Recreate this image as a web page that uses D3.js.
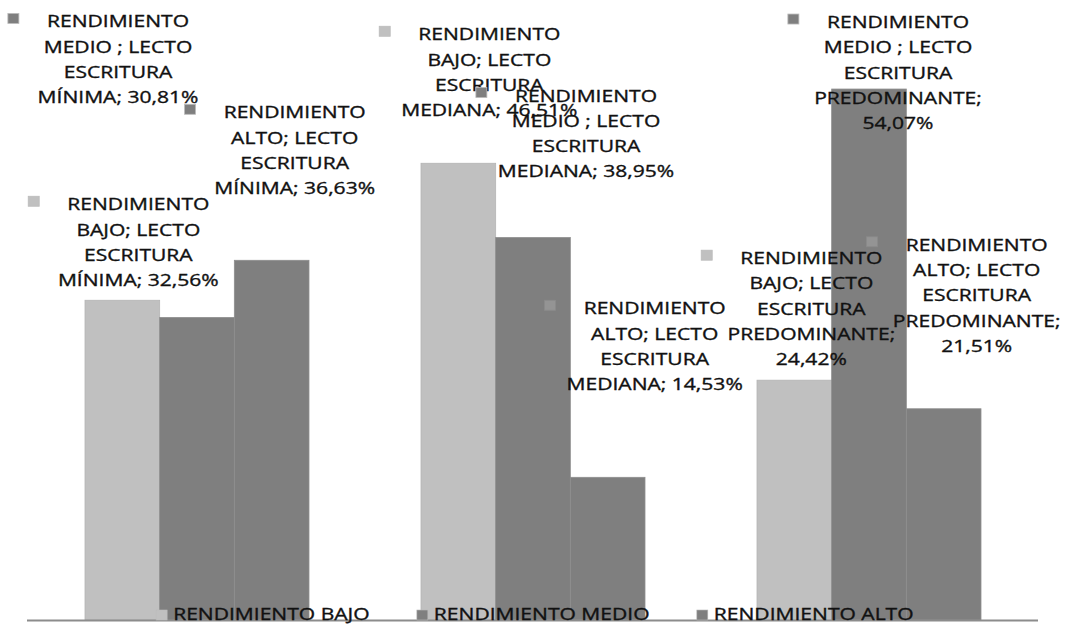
<!DOCTYPE html>
<html><head><meta charset="utf-8">
<script src="https://cdn.jsdelivr.net/npm/d3@7"></script>
<style>body{margin:0;background:#fff} svg{display:block}</style>
</head><body><svg id="c" width="1066" height="626"></svg>
<script>
// ---- data ----
const categories = ["LECTO ESCRITURA MÍNIMA", "LECTO ESCRITURA MEDIANA", "LECTO ESCRITURA PREDOMINANTE"];
const seriesNames = ["RENDIMIENTO BAJO", "RENDIMIENTO MEDIO ", "RENDIMIENTO ALTO"];
const legendLabels = ["RENDIMIENTO BAJO", "RENDIMIENTO MEDIO", "RENDIMIENTO ALTO"];
const bajo = [32.56, 46.51, 24.42];
const medio = [30.81, 38.95, 54.07];
const alto = [36.63, 14.53, 21.51];
const seriesValues = [bajo, medio, alto];

// ---- layout / style ----
const colors = ["#c0c0c0", "#7f7f7f", "#7f7f7f"];
const strokes = ["#b4b4b4", "#8e8e8e", "#8e8e8e"];
// manual label offsets (text centre / first baseline relative to bar top-centre)
const labelOffsets = [
  [[16, -90], [31, -123], [17, -116]],
  [[-79, -290], [53, -136], [29, -61]],
  [[23, -142], [47, -163], [33, -158]]
];
const hollowMarker = [[false, false, false], [false, false, false], [false, true, true]];
const SX = 1.24, FS = 17, LH = 25.3, WRAP = 153;

const svg = d3.select("#c");
const x0 = d3.scaleBand().domain(categories).range([29, 1037]).paddingInner(1/3).paddingOuter(1/6);
const x1 = d3.scaleBand().domain(d3.range(3)).range([0, x0.bandwidth()]);
const y = d3.scaleLinear().domain([0, 60]).range([620, 620 - 60 * 9.82]);

const rows = [];
seriesValues.forEach((vals, s) => vals.forEach((v, c) => rows.push({s, c, v})));

// bars
svg.append("g").selectAll("rect").data(rows).join("rect")
  .attr("x", d => x0(categories[d.c]) + x1(d.s))
  .attr("y", d => y(d.v))
  .attr("width", x1.bandwidth())
  .attr("height", d => y(0) - y(d.v))
  .attr("fill", d => colors[d.s])
  .attr("stroke", d => strokes[d.s])
  .attr("stroke-width", 0.8);

// axis line
svg.append("g").attr("transform", `translate(0,${y(0) + 0.5})`)
  .call(d3.axisBottom(x0).tickSize(0).tickFormat(""))
  .call(g => g.select(".domain").attr("stroke", "#8c8c8c").attr("stroke-width", 2)
    .attr("d", "M27,0H1038"));

// measurement helper
const meas = svg.append("text").attr("font-family", "Open Sans").attr("font-size", FS).attr("visibility", "hidden");
function tw(t) { meas.text(t); return meas.node().getComputedTextLength(); }

function wrap(str) {
  const words = str.split(/\s+/).filter(w => w.length);
  const lines = [];
  let cur = "";
  words.forEach(w => {
    const test = cur ? cur + " " + w : w;
    if (cur && tw(test) > WRAP) { lines.push(cur); cur = w; } else cur = test;
  });
  if (cur) lines.push(cur);
  return lines;
}

const fmt = v => v.toFixed(2).replace(".", ",") + "%";

// data labels
const lg = svg.append("g");
rows.forEach(d => {
  const txt = seriesNames[d.s] + "; " + categories[d.c] + "; " + fmt(d.v);
  const lines = wrap(txt);
  const bc = x0(categories[d.c]) + x1(d.s) + x1.bandwidth() / 2;
  const [dx, dy] = labelOffsets[d.s][d.c];
  const cx = bc + dx, by = y(d.v) + dy;
  const left = cx - tw(lines[0]) * SX / 2;
  const hollow = hollowMarker[d.s][d.c];
  lg.append("rect").attr("x", left - 39).attr("y", by - 14).attr("width", 11).attr("height", 10)
    .attr("fill", hollow ? "rgba(200,200,200,0.3)" : colors[d.s])
    .attr("stroke", hollow ? "#8a8a8a" : "#bbb").attr("stroke-width", 0.8);
  lines.forEach((ln, i) => {
    lg.append("text").attr("transform", `translate(${cx},${by + i * LH}) scale(${SX},1)`)
      .attr("text-anchor", "middle").attr("font-family", "Open Sans").attr("font-size", FS)
      .attr("fill", "#111").attr("stroke", "#111").attr("stroke-width", 0.35).text(ln);
  });
});

// legend
const widths = legendLabels.map(t => tw(t) * SX);
const gap = 47, mk = 17;
const total = d3.sum(widths) + mk * 3 + gap * 2;
let lx = 535 - total / 2;
const leg = svg.append("g");
legendLabels.forEach((t, i) => {
  leg.append("rect").attr("x", lx).attr("y", 610).attr("width", 11).attr("height", 10)
    .attr("fill", colors[i]).attr("stroke", "#bbb").attr("stroke-width", 0.6);
  leg.append("text").attr("transform", `translate(${lx + mk},620) scale(${SX},1)`)
    .attr("font-family", "Open Sans").attr("font-size", FS).attr("fill", "#111")
    .attr("stroke", "#111").attr("stroke-width", 0.35).text(t);
  lx += mk + widths[i] + gap;
});
meas.remove();
</script></body></html>
